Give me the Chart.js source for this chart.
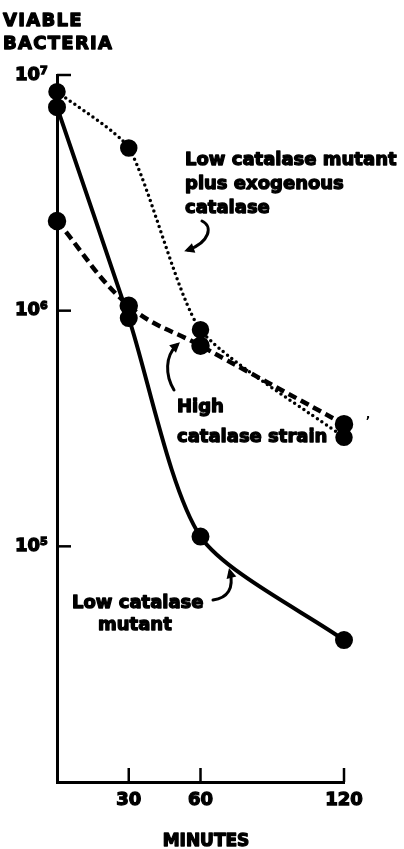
<!DOCTYPE html>
<html>
<head>
<meta charset="utf-8">
<script src="https://cdn.jsdelivr.net/npm/chart.js@4.4.1/dist/chart.umd.min.js"></script>
<style>
  html, body { margin: 0; padding: 0; background: #fff; }
  canvas { display: block; }
</style>
</head>
<body>
<canvas id="killChart" width="404" height="849"></canvas>
<script>
// minutes after exposure
const minutes = [0, 30, 60, 120];
// viable bacteria per series
const lowMutant = [7.3e6, 9.3e5, 1.1e5, 4.0e4];
const lowMutantPlusCatalase = [8.5e6, 4.9e6, 8.3e5, 2.9e5];
const highCatalaseStrain = [2.4e6, 1.05e6, 7.1e5, 3.3e5];
// axis ticks
const xTicks = [30, 60, 120];
const yTicks = [1e5, 1e6, 1e7];
const yTickLabels = ['10⁵', '10⁶', '10⁷'];

const FONT = 'DejaVu Sans';

function toPoints(values) {
    return minutes.map((m, i) => ({ x: m, y: values[i] }));
}

// heavy text: fill plus a thin outline
function txt(ctx, s, x, y) {
    ctx.fillText(s, x, y);
    ctx.strokeText(s, x, y);
}

function arrow(ctx, x0, y0, c1x, c1y, c2x, c2y, x1, y1) {
    ctx.beginPath();
    ctx.moveTo(x0, y0);
    ctx.bezierCurveTo(c1x, c1y, c2x, c2y, x1, y1);
    ctx.stroke();
    const a = Math.atan2(y1 - c2y, x1 - c2x);
    const len = 10, half = 5;
    const tx = x1 + Math.cos(a) * 4, ty = y1 + Math.sin(a) * 4;
    ctx.beginPath();
    ctx.moveTo(tx, ty);
    ctx.lineTo(tx - len * Math.cos(a) + half * Math.sin(a), ty - len * Math.sin(a) - half * Math.cos(a));
    ctx.lineTo(tx - len * Math.cos(a) - half * Math.sin(a), ty - len * Math.sin(a) + half * Math.cos(a));
    ctx.closePath();
    ctx.fill();
}

const labelsPlugin = {
    id: 'labels',
    afterDraw(chart) {
        const ctx = chart.ctx;
        const xs = chart.scales.x, ys = chart.scales.y;
        ctx.save();
        ctx.strokeStyle = '#000';
        ctx.fillStyle = '#000';

        // inward tick marks
        ctx.lineWidth = 2.5;
        yTicks.forEach(v => {
            const y = ys.getPixelForValue(v);
            ctx.beginPath();
            ctx.moveTo(xs.left, y);
            ctx.lineTo(xs.left + 14, y);
            ctx.stroke();
        });
        xTicks.forEach(v => {
            const x = xs.getPixelForValue(v);
            ctx.beginPath();
            ctx.moveTo(x, ys.bottom);
            ctx.lineTo(x, ys.bottom - 14);
            ctx.stroke();
        });

        // titles and notes
        ctx.lineWidth = 1.3;
        ctx.lineJoin = 'round';
        ctx.font = 'bold 18px "' + FONT + '"';
        ctx.textBaseline = 'alphabetic';
        ctx.textAlign = 'left';
        ctx.letterSpacing = '1.3px';
        txt(ctx, 'VIABLE', 3, 26);
        txt(ctx, 'BACTERIA', 3, 49);
        ctx.letterSpacing = '0px';

        txt(ctx, 'Low catalase mutant', 185, 165);
        txt(ctx, 'plus exogenous', 185, 189);
        txt(ctx, 'catalase', 185, 213);

        txt(ctx, 'High', 177, 412);
        txt(ctx, 'catalase strain', 177, 442);

        txt(ctx, 'Low catalase', 72, 608);
        txt(ctx, 'mutant', 98, 630);

        ctx.font = 'bold 17px "' + FONT + '"';
        ctx.textAlign = 'center';
        txt(ctx, 'MINUTES', 206, 846);

        ctx.font = 'bold 12px "' + FONT + '"';
        ctx.fillText('\u2019', 368, 425);

        // curved arrows
        ctx.lineWidth = 3;
        ctx.lineCap = 'round';
        arrow(ctx, 202, 221, 213, 226, 210, 242, 188, 250);
        arrow(ctx, 174, 390, 165, 375, 165, 356, 177, 345);
        arrow(ctx, 213, 600, 228, 598, 234, 588, 230, 572);
        ctx.restore();
    }
};

const tickFont = { family: FONT, weight: 'bold', size: 18 };

new Chart(document.getElementById('killChart'), {
    type: 'line',
    data: {
        datasets: [
            {
                label: 'Low catalase mutant',
                data: toPoints(lowMutant),
                borderColor: '#000',
                borderWidth: 4,
                tension: 0.25
            },
            {
                label: 'Low catalase mutant plus exogenous catalase',
                data: toPoints(lowMutantPlusCatalase),
                borderColor: '#000',
                borderWidth: 3.5,
                borderDash: [0, 5.5],
                borderCapStyle: 'round',
                tension: 0.2
            },
            {
                label: 'High catalase strain',
                data: toPoints(highCatalaseStrain),
                borderColor: '#000',
                borderWidth: 4.5,
                borderDash: [9, 5],
                tension: 0.4
            }
        ]
    },
    options: {
        responsive: false,
        animation: false,
        devicePixelRatio: 1,
        layout: { padding: { top: 75, right: 60, left: 0, bottom: 0 } },
        elements: {
            point: { radius: 7, backgroundColor: '#000', borderWidth: 0 }
        },
        datasets: { line: { clip: false, fill: false } },
        plugins: {
            legend: { display: false },
            tooltip: { enabled: false }
        },
        scales: {
            x: {
                type: 'linear',
                min: 0,
                max: 120,
                afterBuildTicks: s => { s.ticks = xTicks.map(v => ({ value: v })); },
                afterFit: s => { s.height = 67; },
                grid: { display: false, drawTicks: false },
                border: { display: true, width: 3, color: '#000' },
                ticks: {
                    font: tickFont, color: '#000', padding: 8, maxRotation: 0, autoSkip: false,
                    textStrokeColor: '#000', textStrokeWidth: 1.3
                }
            },
            y: {
                type: 'logarithmic',
                min: 1e4,
                max: 1e7,
                afterBuildTicks: s => { s.ticks = yTicks.map(v => ({ value: v })); },
                afterFit: s => { s.width = 57; },
                grid: { display: false, drawTicks: false },
                border: { display: true, width: 3, color: '#000' },
                ticks: {
                    font: tickFont,
                    color: '#000',
                    padding: 9,
                    autoSkip: false,
                    textStrokeColor: '#000',
                    textStrokeWidth: 1.3,
                    callback: v => yTickLabels[yTicks.indexOf(v)]
                }
            }
        }
    },
    plugins: [labelsPlugin]
});
</script>
</body>
</html>
